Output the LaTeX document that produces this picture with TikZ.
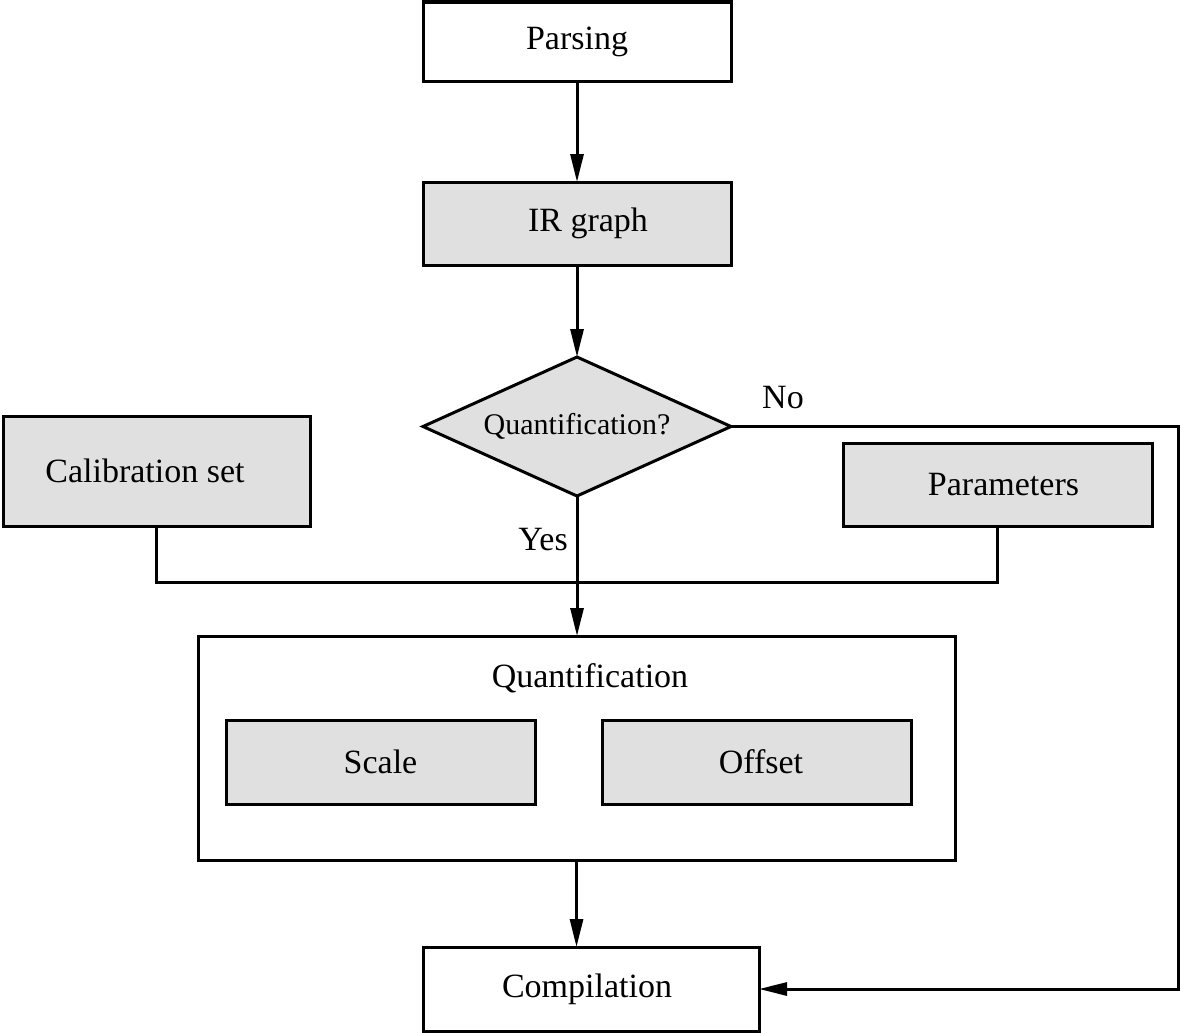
\documentclass[tikz,border=0pt]{standalone}
\usepackage{fontspec}
\setmainfont{Liberation Serif}
\usetikzlibrary{shapes.geometric,arrows.meta}
\definecolor{boxgrey}{HTML}{E0E0E0}
\begin{document}
\begin{tikzpicture}[x=0.5pt,y=-0.5pt,
  every node/.style={inner sep=0pt,outer sep=0pt},
  txt/.style={font=\fontsize{17}{20}\selectfont},
  plainbox/.style={draw,line width=1.5pt,rectangle,txt},
  greybox/.style={plainbox,fill=boxgrey},
  arr/.style={line width=1.5pt,-{Triangle[length=14pt,width=6.5pt]}},
  ln/.style={line width=1.5pt}]
\useasboundingbox (0,0) rectangle (1181,1033);
\node[plainbox,minimum width=154pt,minimum height=39.5pt] (parse) at (577,41.5) {Parsing};
\node[greybox,minimum width=154pt,minimum height=41.5pt,
  label={[txt,xshift=5.5pt]center:IR graph}] (ir) at (577,223.5) {};
\node[draw,fill=boxgrey,line width=1.5pt,diamond,shape aspect=2.216,
  minimum width=154pt,minimum height=69.5pt,
  font=\fontsize{15}{18}\selectfont] (dec) at (577,426.5) {Quantification?};
\node[greybox,minimum width=153.5pt,minimum height=55pt,
  label={[txt,xshift=-5.75pt]center:Calibration set}] (cal) at (156.5,471) {};
\node[greybox,minimum width=154.5pt,minimum height=41.5pt,
  label={[txt,xshift=3pt]center:Parameters}] (par) at (997.5,484.5) {};
\node[plainbox,minimum width=378.5pt,minimum height=112pt] (quant) at (576.5,748) {};
\node[txt] (qlabel) at (590,678) {Quantification};
\node[greybox,minimum width=154.5pt,minimum height=42pt] (scale) at (380.5,762) {Scale};
\node[greybox,minimum width=154.5pt,minimum height=42pt,
  label={[txt,xshift=2.25pt]center:Offset}] (off) at (756.5,762) {};
\node[plainbox,minimum width=168pt,minimum height=42pt,
  label={[txt,xshift=-2pt]center:Compilation}] (comp) at (591,989) {};
\node[txt] (no) at (783,398) {No};
\node[txt] (yes) at (543,540) {Yes};
\draw[arr] (parse) -- (ir);
\draw[arr] (ir) -- (dec);
\draw[arr] (dec.south) -- (dec.south |- quant.north);
\draw[ln] (cal.south) -- ++(0,56) -| (par.south);
\draw[arr] (dec.east) -- ++(447,0) |- (comp.east);
\draw[arr] (quant.south) -- (quant.south |- comp.north);
\end{tikzpicture}
\end{document}
